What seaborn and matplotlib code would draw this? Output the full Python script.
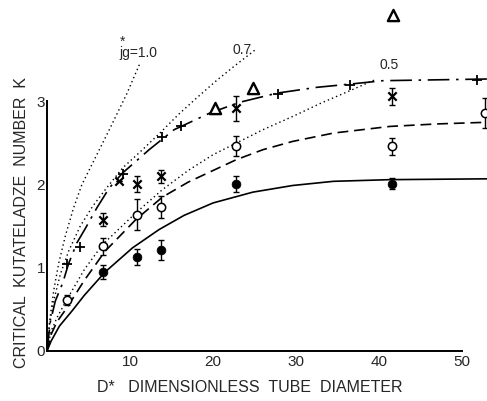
import matplotlib
matplotlib.use("Agg")
import matplotlib.pyplot as plt
import seaborn as sns
import pandas as pd

# ---------------- data ----------------
# curves
solid_x = [0, 0.5, 1.5, 3.0, 4.5, 7.0, 10.3, 13.5, 16.5, 20, 24.8, 29.6, 34.5, 41.3, 53]
solid_y = [0, 0.12, 0.30, 0.48, 0.67, 0.95, 1.24, 1.46, 1.63, 1.78, 1.91, 1.99, 2.04, 2.06, 2.07]

dashed_x = [0, 0.5, 1.2, 2.4, 4.5, 7.0, 10.7, 13.9, 17, 20, 22.8, 26, 29.6, 34.5, 41.3, 47, 53]
dashed_y = [0, 0.20, 0.35, 0.52, 0.85, 1.20, 1.58, 1.85, 2.03, 2.17, 2.30, 2.42, 2.52, 2.62, 2.70, 2.73, 2.75]

dot05_x = [0, 0.5, 1.2, 2.4, 4.5, 6.7, 10.7, 13.9, 17, 20, 22.8, 26, 29.6, 33, 36.5, 39.7]
dot05_y = [0, 0.24, 0.40, 0.62, 0.98, 1.28, 1.66, 1.94, 2.17, 2.36, 2.50, 2.66, 2.82, 2.98, 3.13, 3.27]

dot07_x = [0, 0.3, 0.8, 1.6, 2.6, 4.0, 5.5, 7.1, 9.1, 11.5, 13.7, 15.9, 18, 20.4, 22.5, 25.2]
dot07_y = [0, 0.30, 0.60, 0.92, 1.20, 1.50, 1.74, 1.95, 2.20, 2.42, 2.63, 2.85, 3.04, 3.25, 3.42, 3.63]

dot10_x = [0, 0.3, 0.8, 1.4, 2.2, 3.2, 4.2, 5.5, 7.6, 9.6, 11.2]
dot10_y = [0, 0.35, 0.72, 1.05, 1.38, 1.72, 2.00, 2.26, 2.68, 3.09, 3.46]

dashdot_x = [0, 0.4, 1.0, 1.9, 2.6, 3.6, 4.6, 6.0, 7.5, 9.1, 12.3, 15.3, 19.6, 23.2, 27.7, 32.5, 36.6, 40.5, 53]
dashdot_y = [0, 0.35, 0.60, 0.82, 1.05, 1.30, 1.47, 1.72, 1.96, 2.14, 2.42, 2.66, 2.86, 2.99, 3.10, 3.17, 3.21, 3.25, 3.27]

# data points
filled_x = [6.7, 10.9, 13.7, 22.8, 41.5]
filled_y = [0.95, 1.13, 1.22, 2.01, 2.01]
filled_err = [0.08, 0.10, 0.12, 0.10, 0.065]

open_x = [2.4, 6.7, 10.8, 13.7, 22.8, 41.5, 52.8]
open_y = [0.61, 1.26, 1.64, 1.73, 2.46, 2.46, 2.86]
open_err = [0.06, 0.10, 0.19, 0.13, 0.12, 0.10, 0.18]

cross_x = [6.7, 8.7, 10.8, 13.7, 22.8, 41.5]
cross_y = [1.58, 2.04, 2.01, 2.10, 2.92, 3.06]
cross_err = [0.08, 0.0, 0.10, 0.08, 0.15, 0.10]

plus_x = [2.4, 4.0, 9.2, 13.8, 16.1, 27.8, 36.5, 51.8]
plus_y = [1.04, 1.25, 2.13, 2.57, 2.71, 3.09, 3.20, 3.26]

tri_x = [20.2, 24.8, 41.7]
tri_y = [2.92, 3.16, 4.04]

x_ticks = [10, 20, 30, 40, 50]
y_ticks = [0, 1, 2, 3]

# ---------------- style ----------------
sns.set_style("white")
plt.rcParams["font.family"] = ["Liberation Sans", "DejaVu Sans"]

fig = plt.figure(figsize=(4.87, 4.01), dpi=100)
ax = fig.add_axes([47 / 487, 50 / 401, 1 - 47 / 487, 351 / 401])
ax.set_facecolor("white")

def curve(xs, ys, ls, lw=1.1):
    df = pd.DataFrame({"x": xs, "y": ys})
    sns.lineplot(data=df, x="x", y="y", ax=ax, color="black", linestyle=ls,
                 linewidth=lw, sort=False, estimator=None)

curve(solid_x, solid_y, "-", 1.2)
curve(dashed_x, dashed_y, (0, (6.5, 3.5)), 1.2)
curve(dot05_x, dot05_y, (0, (1, 2.2)), 1.0)
curve(dot07_x, dot07_y, (0, (1, 2.2)), 1.0)
curve(dot10_x, dot10_y, (0, (1, 2.2)), 1.0)
curve(dashdot_x, dashdot_y, (0, (13, 4, 1.5, 4)), 1.2)

# error bars
ax.errorbar(filled_x, filled_y, yerr=filled_err, fmt="none", ecolor="black",
            elinewidth=1.0, capsize=2.2, capthick=1.0)
ax.errorbar(open_x, open_y, yerr=open_err, fmt="none", ecolor="black",
            elinewidth=1.0, capsize=2.2, capthick=1.0)
ax.errorbar(cross_x, cross_y, yerr=cross_err, fmt="none", ecolor="black",
            elinewidth=1.0, capsize=2.2, capthick=1.0)

# markers
sns.scatterplot(x=filled_x, y=filled_y, ax=ax, marker="o", s=40,
                color="black", edgecolor="black", zorder=5)
sns.scatterplot(x=open_x, y=open_y, ax=ax, marker="o", s=36,
                facecolor="white", edgecolor="black", linewidth=1.1, zorder=5)
sns.scatterplot(x=cross_x, y=cross_y, ax=ax, marker="x", s=36,
                color="black", linewidth=1.6, zorder=5)
sns.scatterplot(x=plus_x, y=plus_y, ax=ax, marker="+", s=50,
                color="black", linewidth=1.3, zorder=5)
sns.scatterplot(x=tri_x, y=tri_y, ax=ax, marker="^", s=65,
                facecolor="white", edgecolor="black", linewidth=1.7, zorder=5)

# curve labels
ax.text(8.75, 3.50, "*\njg=1.0", fontsize=10, ha="left", va="bottom",
        linespacing=0.7, multialignment="left")
ax.text(22.4, 3.62, "0.7", fontsize=10, ha="left", va="center")
ax.text(40.1, 3.44, "0.5", fontsize=10, ha="left", va="center")

# axes
ax.set_xlim(0, 53)
ax.set_ylim(0, 4.22)
ax.set_xticks(x_ticks)
ax.set_yticks(y_ticks)
ax.set_xticklabels([str(t) for t in x_ticks], fontsize=11)
ax.set_yticklabels([str(t) for t in y_ticks], fontsize=11)
ax.tick_params(axis="x", direction="in", length=5, width=1.2, pad=3)
ax.tick_params(axis="y", direction="in", length=6, width=1.2, pad=1.5)
for s in ["top", "right"]:
    ax.spines[s].set_visible(False)
ax.spines["left"].set_bounds(0, 3)
ax.spines["bottom"].set_bounds(0, 50)
for s in ["left", "bottom"]:
    ax.spines[s].set_linewidth(1.4)
    ax.spines[s].set_color("black")
ax.set_xlabel("")
ax.set_ylabel("")

fig.text(250 / 487, 1 - 388 / 401, "D*   DIMENSIONLESS  TUBE  DIAMETER",
         fontsize=11.5, ha="center", va="center")
fig.text(22 / 487, 1 - 222 / 401, "CRITICAL  KUTATELADZE  NUMBER  K",
         fontsize=11.5, ha="center", va="center", rotation=90)

fig.savefig("out.png", dpi=100, facecolor="white")
